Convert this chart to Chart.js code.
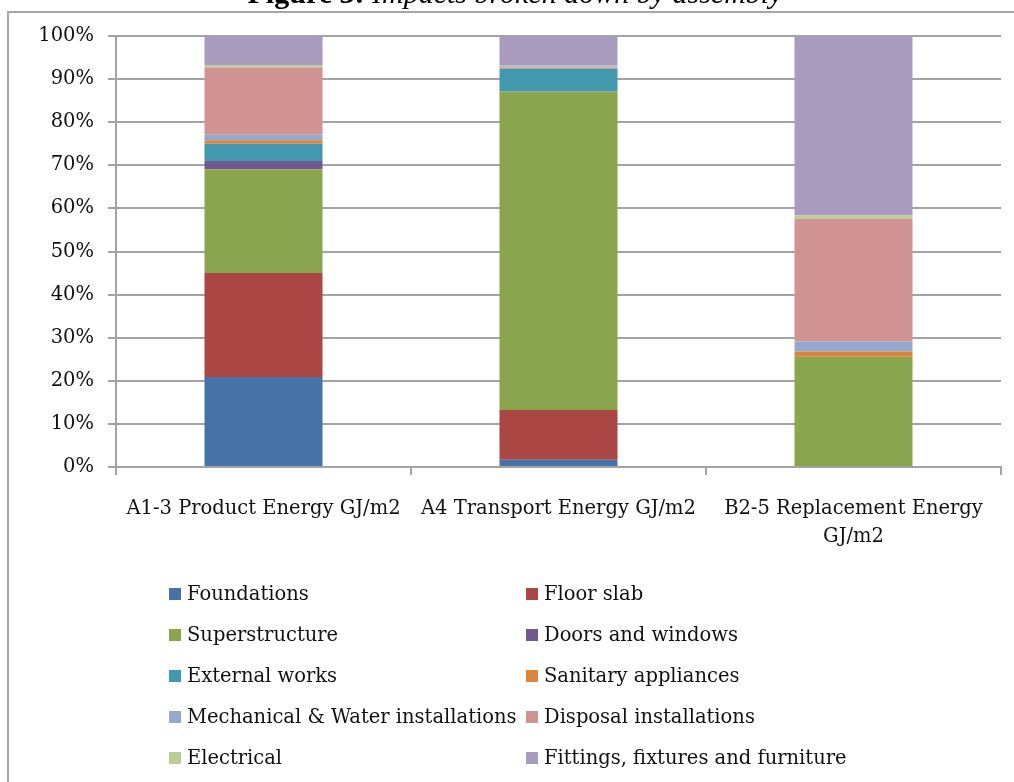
<!DOCTYPE html>
<html><head><meta charset="utf-8">
<script src="https://cdn.jsdelivr.net/npm/chart.js@4"></script>
<style>
html,body{margin:0;padding:0;background:#fff;}
#wrap{position:relative;width:1014px;height:782px;overflow:hidden;}
canvas{position:absolute;left:0;top:0;}
</style></head>
<body>
<div id="wrap"><canvas id="c" width="1014" height="782"></canvas></div>
<script>
const categories = ['A1-3 Product Energy GJ/m2', 'A4 Transport Energy GJ/m2', ['B2-5 Replacement Energy', 'GJ/m2']];
const yTickLabels = ['0%','10%','20%','30%','40%','50%','60%','70%','80%','90%','100%'];
const seriesNames = ['Foundations','Floor slab','Superstructure','Doors and windows','External works','Sanitary appliances','Mechanical & Water installations','Disposal installations','Electrical','Fittings, fixtures and furniture'];
const foundations    = [20.9, 1.7, 0];
const floorSlab      = [24.1, 11.5, 0];
const superstructure = [24.1, 73.9, 25.6];
const doorsWindows   = [1.9, 0.1, 0];
const externalWorks  = [4.0, 5.2, 0];
const sanitary       = [0.8, 0.1, 1.2];
const mechanical     = [1.3, 0.2, 2.3];
const disposal       = [15.6, 0.2, 28.5];
const electrical     = [0.5, 0.2, 0.8];
const fittings       = [6.8, 6.9, 41.6];
const seriesValues = [foundations, floorSlab, superstructure, doorsWindows, externalWorks, sanitary, mechanical, disposal, electrical, fittings];
const colors = ['#4572A7','#AA4643','#89A54E','#71588F','#4198AF','#DB843D','#93A9CF','#D19392','#B9CD96','#A99BBD'];

const FONT = 'DejaVu Serif';
const GRID = '#a3a3a3';

const decor = {
  id: 'decor',
  beforeDraw(chart) {
    const ctx = chart.ctx;
    ctx.save();
    ctx.strokeStyle = '#a6a6a6';
    ctx.lineWidth = 2;
    ctx.beginPath();
    ctx.moveTo(8, 782); ctx.lineTo(8, 12); ctx.lineTo(1014, 12);
    ctx.stroke();
    // title (cut off at top)
    ctx.fillStyle = '#000';
    ctx.textBaseline = 'alphabetic';
    const t1 = 'Figure 3: ', t2 = 'Impacts broken down by assembly';
    ctx.font = 'bold 30px "Liberation Serif"';
    const w1 = ctx.measureText(t1).width;
    ctx.font = 'italic 30px "Liberation Serif"';
    const w2 = ctx.measureText(t2).width;
    const x0 = 515 - (w1 + w2) / 2;
    ctx.font = 'bold 30px "Liberation Serif"';
    ctx.fillText(t1, x0, 3);
    ctx.font = 'italic 30px "Liberation Serif"';
    ctx.fillText(t2, x0 + w1, 3);
    ctx.restore();
  },
  afterDraw(chart) {
    const ctx = chart.ctx;
    ctx.save();
    ctx.font = '19.5px "' + FONT + '"';
    ctx.textBaseline = 'middle';
    ctx.textAlign = 'left';
    chart.data.datasets.forEach((ds, i) => {
      const col = i % 2, row = Math.floor(i / 2);
      const sx = col ? 526 : 169;
      const tx = col ? 544 : 187;
      const cy = 594 + row * 41;
      ctx.fillStyle = ds.backgroundColor;
      ctx.fillRect(sx, cy - 6, 12, 12);
      ctx.fillStyle = '#111';
      ctx.fillText(ds.label, tx, cy + 1);
    });
    ctx.restore();
  }
};

new Chart(document.getElementById('c'), {
  type: 'bar',
  data: {
    labels: categories,
    datasets: seriesNames.map((n, i) => ({
      label: n,
      data: seriesValues[i],
      backgroundColor: colors[i],
      borderWidth: 0,
      categoryPercentage: 1,
      barPercentage: 0.4
    }))
  },
  options: {
    responsive: false,
    animation: false,
    layout: { padding: { left: 0, top: 36, right: 13, bottom: 215 } },
    plugins: { legend: { display: false }, tooltip: { enabled: false }, title: { display: false } },
    scales: {
      x: {
        stacked: true,
        grid: { display: true, drawOnChartArea: false, drawTicks: true, tickLength: 8, color: GRID, lineWidth: 2, offset: true },
        border: { display: true, color: GRID, width: 2 },
        ticks: { color: '#111', font: { family: FONT, size: 19.5, lineHeight: 1.436 }, maxRotation: 0, minRotation: 0, autoSkip: false, padding: 20 },
        afterFit: s => { s.height = 100; }
      },
      y: {
        stacked: true,
        min: 0, max: 100,
        ticks: { stepSize: 10, color: '#111', font: { family: FONT, size: 19.5 }, padding: 14,
                 callback: (v, idx) => yTickLabels[idx] },
        grid: { color: GRID, lineWidth: 2, tickLength: 8 },
        border: { display: true, color: GRID, width: 2 },
        afterFit: s => { s.width = 116; }
      }
    }
  },
  plugins: [decor]
});
</script>
</body></html>
